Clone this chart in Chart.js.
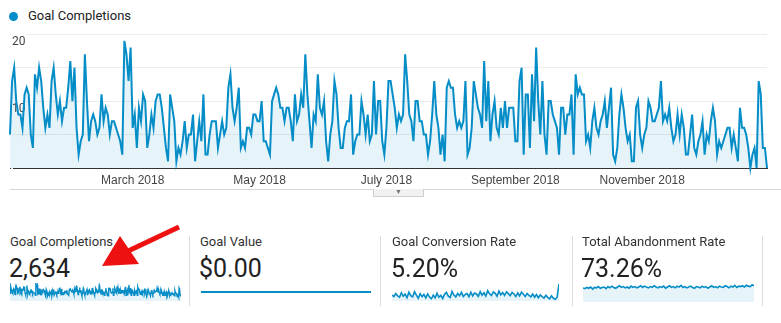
<!DOCTYPE html>
<html>
<head>
<meta charset="utf-8">
<script src="https://cdn.jsdelivr.net/npm/chart.js@4/dist/chart.umd.min.js"></script>
<style>
  body { margin: 0; background: #fff; font-family: Roboto, Arial, sans-serif; }
  #page { position: relative; width: 781px; height: 323px; overflow: hidden; }
  .abs { position: absolute; }
  .legend-dot { left: 9px; top: 12px; width: 9px; height: 9px; border-radius: 50%; background: #058dc7; }
  .legend-text { left: 28px; top: 8px; font-size: 13px; line-height: 16px; color: #222; }
  .title { font-size: 13px; line-height: 16px; color: #333; top: 234px; }
  .value { font-size: 25px; line-height: 30px; color: #222; top: 254px; }
  .divider { top: 236px; width: 1px; height: 70px; background: #ddd; }
  .spark { top: 282px; height: 20px; }
</style>
</head>
<body>
<div id="page">
  <div class="abs legend-dot"></div>
  <div class="abs legend-text">Goal Completions</div>

  <div class="abs" style="left:0;top:25px;width:781px;height:164px;"><canvas id="main"></canvas></div>
  <div class="abs" style="left:10px;top:189px;width:771px;height:1px;background:#d6d6d6;"></div>
  <div class="abs" style="left:373px;top:189px;width:49px;height:7px;border:1px solid #cfcfcf;border-top:none;background:#f1f1f1;font-size:7px;line-height:7px;color:#777;text-align:center;">&#9660;</div>

  <div class="abs title" style="left:10px;">Goal Completions</div>
  <div class="abs value" style="left:9px;">2,634</div>
  <div class="abs spark" style="left:10px;width:171px;top:283px;height:18px;"><canvas id="sp1"></canvas></div>
  <div class="abs divider" style="left:189px;"></div>

  <div class="abs title" style="left:200px;">Goal Value</div>
  <div class="abs value" style="left:199px;">$0.00</div>
  <div class="abs spark" style="left:201px;width:170px;top:283px;height:18px;"><canvas id="sp2"></canvas></div>
  <div class="abs divider" style="left:380px;"></div>

  <div class="abs title" style="left:392px;">Goal Conversion Rate</div>
  <div class="abs value" style="left:391px;">5.20%</div>
  <div class="abs spark" style="left:392px;width:167px;top:283px;height:18px;"><canvas id="sp3"></canvas></div>
  <div class="abs divider" style="left:572px;"></div>

  <div class="abs title" style="left:582px;">Total Abandonment Rate</div>
  <div class="abs value" style="left:581px;">73.26%</div>
  <div class="abs spark" style="left:583px;width:171px;top:284px;height:18px;"><canvas id="sp4"></canvas></div>
  <div class="abs divider" style="left:762px;"></div>

  <svg class="abs" style="left:0;top:0;" width="781" height="323">
    <line x1="179" y1="227" x2="126" y2="252" stroke="#ee1111" stroke-width="5"/>
    <polygon points="102,266 120,236 139,264" fill="#ee1111"/>
  </svg>
</div>

<script>
// daily goal completions, 1 Jan 2018 .. 31 Dec 2018
var goalCompletions = [
  5,13,15,10,8,8,6,11,12,11, 5,3,14,12,15,13,9,6,8,6, 13,15,11,8,10,7,9,9,12,16,
  10,15,6,2,4,5,17,10,4,7, 8,7,5,6,11,7,9,8,5,7, 7,6,5,4,2,19,17,13,18,6,
  8,3,9,7,11,10,3,5,8,6, 10,11,11,9,6,3,1,11,9,7, 1,3,2,4,7,3,5,5,8,1,
  4,7,4,11,2,2,5,7,7,7, 3,5,7,5,6,12,14,9,7,9, 12,3,4,3,6,6,5,8,8,7,
  7,10,4,4,3,2,10,11,12,11, 9,9,7,9,9,7,4,11,7,8, 11,9,17,11,7,3,8,7,14,9,
  8,10,4,1,5,7,13,11,6,3, 3,6,7,7,11,2,4,5,5,10, 8,5,8,4,5,13,5,10,10,4,
  2,6,13,13,11,9,6,8,7,8, 17,13,8,7,4,10,10,7,7,5, 5,2,4,8,13,8,6,2,5,1,
  12,13,12,12,8,6,7,6,7,13, 2,3,6,13,11,9,8,6,16,7, 13,4,8,10,6,5,9,6,10,6,
  9,9,9,4,4,13,15,2,11,11, 3,14,7,18,10,5,13,5,2,10, 10,8,7,6,2,9,9,5,8,8,
  11,2,14,11,12,11,11,4,5,3, 7,9,6,5,7,8,10,6,9,12, 2,1,3,8,11,9,6,4,5,1,
  1,9,10,5,3,5,6,10,9,7, 7,8,9,13,7,8,7,9,6,4, 5,8,5,8,6,2,2,5,8,3,
  2,4,5,7,2,5,4,7,9,7, 2,4,3,4,5,6,6,3,5,3, 1,9,6,6,5,3,0,2,3,0,
  13,11,3,3,0
];
var tickLabels = ['March 2018', 'May 2018', 'July 2018', 'September 2018', 'November 2018'];
var tickDays = [59, 120, 181, 243, 304];
var yTicksShown = [10, 20];

var goalValue = [0,0,0,0,0,0,0,0,0,0,0,0];
var conversionRate = [
  5.5,4.6,6.3,5.0,4.2,6.8,4.8,6.0,3.9,7.1,5.1,4.4,7.4,5.4,3.6,6.2,4.5,5.8,3.8,6.1,
  4.3,3.3,5.4,3.8,6.5,4.2,5.3,3.5,5.9,7.0,4.8,4.1,7.6,5.5,4.4,6.4,5.1,7.1,4.6,5.8,
  6.3,4.5,7.2,5.0,6.6,6.1,4.7,7.5,5.4,6.8,4.9,8.0,6.2,5.2,7.3,6.5,4.8,7.8,5.6,6.9,
  5.3,7.4,6.3,5.1,7.0,6.1,4.6,6.7,5.0,7.2,5.9,4.7,6.4,5.2,4.4,6.1,4.2,5.8,3.9,5.5,
  4.5,3.7,5.3,4.1,3.3,5.0,3.6,3.0,4.2,12.0
];
var abandonmentRate = [
  73,71,74,72,75,70,74,73,76,72,74,75,71,76,73,77,74,72,75,78,
  74,76,73,75,72,77,74,76,73,75,78,74,77,75,73,76,74,78,75,73,
  76,74,77,72,75,78,74,76,73,77,75,79,74,76,73,75,77,74,72,76,
  75,73,77,74,76,72,75,78,74,76,73,77,75,74,78,76,73,77,75,79,
  74,77,76,78,75,79,77,76,80,78
];

var blue = '#058dc7';
var fillBlue = 'rgba(5,141,199,0.1)';

var days = [];
var d = new Date(2018, 0, 1);
for (var i = 0; i < goalCompletions.length; i++) {
  days.push(d.toDateString());
  d.setDate(d.getDate() + 1);
}

new Chart(document.getElementById('main').getContext('2d'), {
  type: 'line',
  data: {
    labels: days,
    datasets: [{
      label: 'Goal Completions',
      data: goalCompletions,
      borderColor: blue,
      borderWidth: 2,
      backgroundColor: fillBlue,
      fill: 'origin',
      pointRadius: 0,
      tension: 0,
      clip: false
    }]
  },
  options: {
    responsive: true,
    maintainAspectRatio: false,
    animation: false,
    layout: { padding: { top: 5, left: 10, right: 14, bottom: 0 } },
    plugins: { legend: { display: false }, tooltip: { enabled: false } },
    scales: {
      x: {
        offset: false,
        grid: { display: false, drawTicks: false },
        border: { color: '#333', width: 1 },
        afterFit: function(axis) { axis.height = 21; },
        ticks: {
          autoSkip: false,
          maxRotation: 0,
          padding: 5,
          color: '#444',
          font: { family: 'Liberation Sans, Arial', size: 12 },
          callback: function(val, idx) {
            var k = tickDays.indexOf(idx);
            return k >= 0 ? tickLabels[k] : '';
          }
        }
      },
      y: {
        min: 0,
        max: 20,
        border: { display: false },
        grid: { color: '#ececec', drawTicks: false },
        afterFit: function(axis) { axis.width = 0; },
        ticks: {
          stepSize: 5,
          mirror: true,
          padding: 2,
          labelOffset: 8,
          showLabelBackdrop: true,
          backdropColor: 'rgba(255,255,255,0.9)',
          backdropPadding: 1,
          color: '#444',
          font: { family: 'Roboto, Arial', size: 12 },
          callback: function(v) { return yTicksShown.indexOf(v) >= 0 ? v : ''; }
        }
      }
    }
  }
});

function spark(id, values, yMin, yMax, width, fillMode) {
  var labels = values.map(function(_, i) { return i; });
  new Chart(document.getElementById(id).getContext('2d'), {
    type: 'line',
    data: {
      labels: labels,
      datasets: [{
        data: values,
        borderColor: blue,
        borderWidth: width,
        backgroundColor: fillBlue,
        fill: fillMode,
        pointRadius: 0,
        tension: 0,
        clip: false
      }]
    },
    options: {
      responsive: true,
      maintainAspectRatio: false,
      animation: false,
      layout: { padding: 0 },
      plugins: { legend: { display: false }, tooltip: { enabled: false } },
      scales: {
        x: { display: false, offset: false },
        y: { display: false, min: yMin, max: yMax }
      }
    }
  });
}

spark('sp1', goalCompletions, -7, 21, 1.4, 'start');
spark('sp2', goalValue, -1, 1, 2, 'origin');
spark('sp3', conversionRate, 2, 12.5, 1.6, 'start');
spark('sp4', abandonmentRate, 40, 82, 1.6, 'start');
</script>
</body>
</html>
